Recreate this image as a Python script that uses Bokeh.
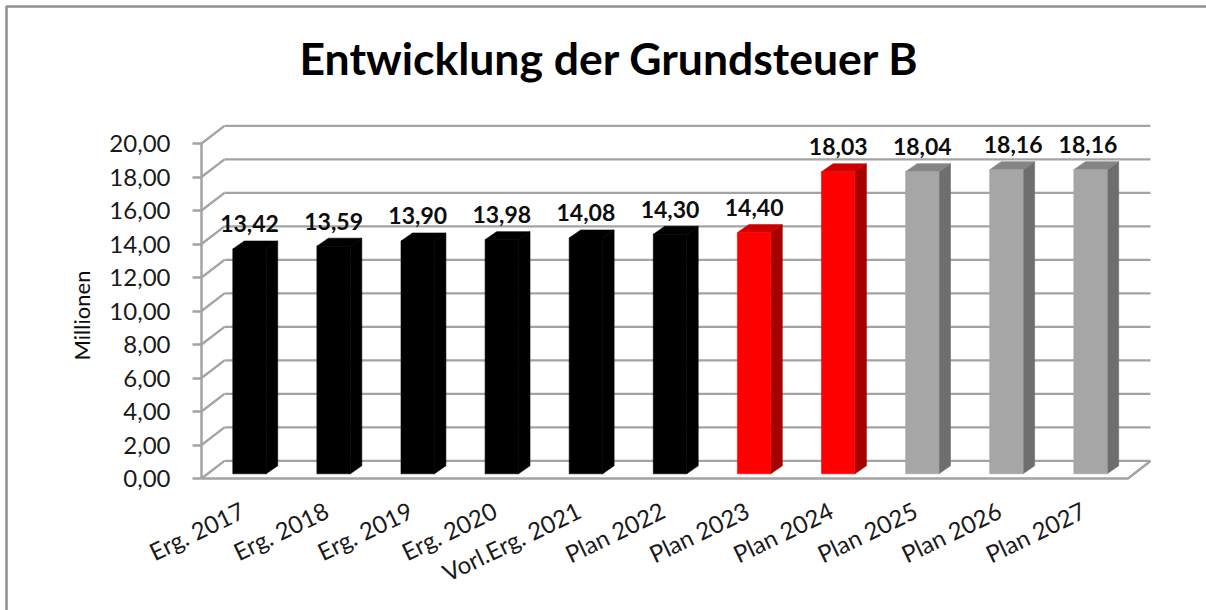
from bokeh.plotting import figure
from bokeh.models import Range1d, FixedTicker, LinearAxis, Label
from bokeh.embed import file_html
from bokeh.resources import INLINE
from bokeh.core.properties import value

categories = ["Erg. 2017", "Erg. 2018", "Erg. 2019", "Erg. 2020", "Vorl.Erg. 2021", "Plan 2022",
              "Plan 2023", "Plan 2024", "Plan 2025", "Plan 2026", "Plan 2027"]
values = [13.42, 13.59, 13.90, 13.98, 14.08, 14.30, 14.40, 18.03, 18.04, 18.16, 18.16]
value_labels = ["13,42", "13,59", "13,90", "13,98", "14,08", "14,30", "14,40", "18,03", "18,04", "18,16", "18,16"]
y_ticks = [0, 2, 4, 6, 8, 10, 12, 14, 16, 18, 20]
y_tick_labels = ["0,00", "2,00", "4,00", "6,00", "8,00", "10,00", "12,00", "14,00", "16,00", "18,00", "20,00"]

# styles
front = ["#000000"] * 6 + ["#ff0000"] * 2 + ["#a6a6a6"] * 3
top = ["#000000"] * 6 + ["#cc0000"] * 2 + ["#858585"] * 3
side = ["#000000"] * 6 + ["#a60000"] * 2 + ["#6e6e6e"] * 3
label_dx = [0, 0, 0, 0, 0, 0, 0, 0, 0, 0.08, -0.03]
GRID = "#a3a3a3"
TEXT = "#1a1a1a"

# geometry (pixels of the 1206x610 page)
W, H = 1206, 610
FL, FR, FB = 201, 1150, 478
STEP, Y_SCALE = 84.1, 16.75
C0 = 249.0
def xd(px): return (px - C0) / STEP
def yd(py): return (FB - py) / Y_SCALE
WALL_X, WALL_Y = 23 / STEP, 17.6 / Y_SCALE
HALF = 16.7 / STEP
DX, DY = 11.5 / STEP, 8 / Y_SCALE
BASE = 0.28
FLOOR_R = xd(1127.5)
LABEL_SHIFT = 7 / STEP

p = figure(width=W, height=H, output_backend="svg", toolbar_location=None,
           x_range=Range1d(xd(0), xd(W)), y_range=Range1d(yd(H), yd(0)),
           min_border=0, x_axis_location=None, y_axis_location=None,
           background_fill_color="white", border_fill_color="white", outline_line_color=None)
p.grid.visible = False
p.styles = {"position": "absolute", "left": "0px", "top": "0px"}
p.extra_x_ranges["labels"] = Range1d(xd(0) + LABEL_SHIFT, xd(W) + LABEL_SHIFT)

# chart area border (left and top edges)
p.line(x=[xd(6), xd(6), xd(W + 5)], y=[yd(H + 5), yd(6), yd(6)], line_color="#8f8f8f", line_width=2.5)

X0 = xd(FL)
# back wall and side wall grid
p.segment(x0=[X0 + WALL_X] * len(y_ticks), y0=[t + WALL_Y for t in y_ticks],
          x1=[xd(FR)] * len(y_ticks), y1=[t + WALL_Y for t in y_ticks], line_color=GRID, line_width=2.4)
p.segment(x0=[X0] * len(y_ticks), y0=y_ticks, x1=[X0 + WALL_X] * len(y_ticks),
          y1=[t + WALL_Y for t in y_ticks], line_color=GRID, line_width=2.4)
p.segment(x0=[X0], y0=[0], x1=[X0], y1=[20], line_color=GRID, line_width=2.5)
# floor
p.line(x=[X0, FLOOR_R, xd(FR)], y=[0, 0, WALL_Y], line_color=GRID, line_width=2.5)

xs = list(range(len(values)))
fx, fy, tx, ty, sx, sy = [], [], [], [], [], []
for i, v in zip(xs, values):
    l, r, b, t = i - HALF, i + HALF, BASE, BASE + v
    fx.append([l, r, r, l]); fy.append([b, b, t, t])
    tx.append([l, r, r + DX, l + DX]); ty.append([t, t, t + DY, t + DY])
    sx.append([r, r + DX, r + DX, r]); sy.append([b, b + DY, t + DY, t])
p.patches(sx, sy, fill_color=side, line_color=side, line_width=0.6)
p.patches(tx, ty, fill_color=top, line_color=top, line_width=0.6)
p.patches(fx, fy, fill_color=front, line_color=front, line_width=0.6)

p.text(x=[i + d for i, d in zip(xs, label_dx)], y=[BASE + v + DY + 1.02 for v in values], text=value_labels,
       text_font=value("Lato"), text_font_style="bold", text_font_size="23px", text_color="#0d0d0d",
       text_align="center", text_baseline="middle")

yaxis = LinearAxis(fixed_location=X0, ticker=FixedTicker(ticks=y_ticks),
                   major_label_overrides=dict(zip(y_ticks, y_tick_labels)),
                   axis_line_color=None, major_tick_in=0, major_tick_out=9, major_tick_line_color=GRID,
                   major_tick_line_width=2.4, minor_tick_line_color=None, major_label_standoff=22,
                   major_label_text_font="Lato", major_label_text_font_size="24px",
                   major_label_text_color=TEXT)
p.add_layout(yaxis, "left")
xaxis = LinearAxis(fixed_location=0, x_range_name="labels", ticker=FixedTicker(ticks=xs),
                   major_label_overrides=dict(zip(xs, categories)),
                   axis_line_color=None, major_tick_line_color=None, minor_tick_line_color=None,
                   major_label_orientation=0.45, major_label_standoff=24,
                   major_label_text_font="Lato", major_label_text_font_size="24px",
                   major_label_text_color=TEXT)
p.add_layout(xaxis, "below")

p.add_layout(Label(x=xd(609), y=yd(57), text="Entwicklung der Grundsteuer B", text_align="center",
                   text_baseline="middle", text_font="Lato", text_font_style="bold",
                   text_font_size="44.5px", text_color="#000000"))
p.add_layout(Label(x=xd(81), y=yd(315), text="Millionen", angle=1.5708,
                   text_align="center", text_baseline="middle",
                   text_font="Lato", text_font_size="22px", text_color="#0d0d0d"))

open("out.html", "w").write(file_html(p, INLINE))
